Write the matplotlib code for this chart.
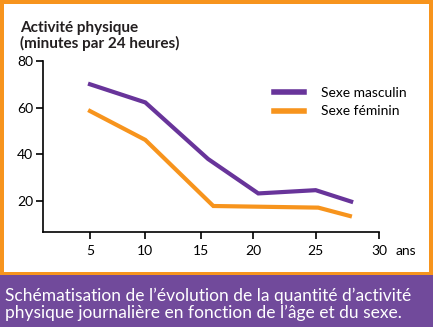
import numpy as np
import matplotlib
matplotlib.use('Agg')
import matplotlib.pyplot as plt
from matplotlib.lines import Line2D
from matplotlib.patches import Rectangle

plt.rcParams['font.family'] = ['Lato', 'DejaVu Sans']

# data
ages_m = [5, 10, 15.7, 20.4, 25, 27.8]
minutes_m = [70.0, 62.2, 37.9, 23.1, 24.5, 19.6]
ages_f = [5, 10, 16.2, 25.2, 27.7]
minutes_f = [58.5, 46.1, 17.7, 17.0, 13.4]
x_ticks = [5, 10, 15, 20, 25, 30]
y_ticks = [20, 40, 60, 80]
legend_labels = ['Sexe masculin', 'Sexe féminin']

purple = '#68349a'
orange = '#f7941d'
band = '#714a9b'

# the original axis is not evenly spaced, so use a piecewise scale
knots_age = [0, 5, 10, 15, 20, 25, 30, 35]
knots_px = [34.7, 90, 145.3, 200.7, 253.3, 315.7, 379, 442]

def fwd(x):
    return np.interp(x, knots_age, knots_px, left=-1e9, right=1e9)

def inv(p):
    return np.interp(p, knots_px, knots_age)

fig = plt.figure(figsize=(4.33, 3.27), dpi=100)

# orange frame and purple caption band
fig.patches.append(Rectangle((0, 0), 1, 1, transform=fig.transFigure,
                             facecolor=orange, edgecolor='none', zorder=-3))
fig.patches.append(Rectangle((4 / 433, (327 - 272) / 327), 425 / 433, 268 / 327,
                             transform=fig.transFigure, facecolor='white',
                             edgecolor='none', zorder=-2))
fig.patches.append(Rectangle((0, 0), 1, (327 - 275) / 327, transform=fig.transFigure,
                             facecolor=band, edgecolor='none', zorder=-1))

ax = fig.add_axes([43 / 433, 1 - 232.3 / 327, (379 - 43) / 433, (232.3 - 61) / 327])
ax.set_xscale('function', functions=(fwd, inv))
ax.plot(ages_m, minutes_m, color=purple, lw=3.0, solid_joinstyle='miter')
ax.plot(ages_f, minutes_f, color=orange, lw=3.0, solid_joinstyle='miter')

ax.set_xlim(0.75, 30)
ax.set_ylim(6.4, 80)
ax.set_xticks(x_ticks)
ax.set_yticks(y_ticks)
ax.patch.set_alpha(0)
for s in ['top', 'right']:
    ax.spines[s].set_visible(False)
for s in ['left', 'bottom']:
    ax.spines[s].set_linewidth(1.2)
ax.tick_params(direction='out', length=5, width=1.2, labelsize=10, colors='black')
ax.tick_params(axis='y', pad=2)
ax.tick_params(axis='x', pad=4)

fig.text(396 / 433, 1 - 251 / 327, 'ans', fontsize=10, va='center', ha='left')

fig.text(20 / 433, 1 - 36 / 327, 'Activité physique\n(minutes par 24 heures)',
         fontsize=11, fontweight='bold', va='center', ha='left', linespacing=1.0,
         color='#231f20')

handles = [Line2D([], [], color=purple, lw=4), Line2D([], [], color=orange, lw=4)]
fig.legend(handles, legend_labels, loc='upper left',
           bbox_to_anchor=(261 / 433, 1 - 74 / 327), frameon=False,
           fontsize=10, handlelength=2.2, handletextpad=1.2, labelspacing=0.5)

fig.text(5 / 433, 1 - 304.5 / 327,
         'Schématisation de l’évolution de la quantité d’activité\n'
         'physique journalière en fonction de l’âge et du sexe.',
         fontsize=12.5, color='white', va='center', ha='left', linespacing=1.05)

fig.savefig('out.png', dpi=100)
